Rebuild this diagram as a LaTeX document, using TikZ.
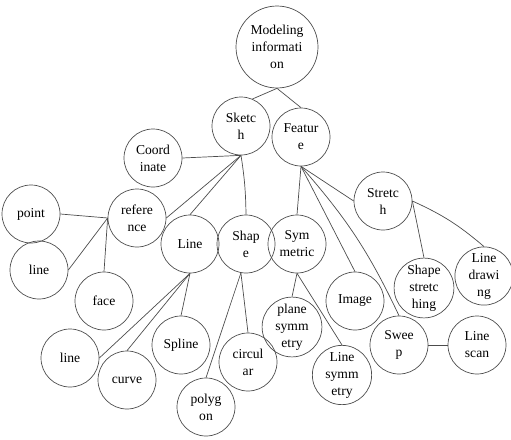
\documentclass[tikz,border=0pt]{standalone}
\usepackage{fontspec}
\setmainfont{Liberation Serif}
\tikzset{
  topic/.style={draw=black!70, circle, line width=0.7pt, minimum size=58pt,
    inner sep=1pt, align=center, font=\fontsize{13.6}{17}\selectfont},
  root/.style={topic, minimum size=82pt}
}
\begin{document}
\begin{tikzpicture}[x=1pt,y=-1pt]
      \useasboundingbox (0,0) rectangle (511,439);
      \begin{scope}[every node/.style=topic]
      \path
        (277,47) node[root] (model){Modeling\\informati\\on}
        (241,126) node (sketch){Sketc\\h}
        (301,137) node (feat){Featur\\e}
        (153,158) node (coord){Coord\\inate}
        (137,218) node (ref){refere\\nce}
        (31,214) node (point){point}
        (39,270) node (lineA){line}
        (104,301) node (face){face}
        (190,244) node (line){Line}
        (246,244) node (shape){Shap\\e}
        (70,358) node (lineB){line}
        (127,380) node (curve){curve}
        (181,345) node (spline){Spline}
        (206,407) node (polygon){polyg\\on}
        (248,362) node (circ){circul\\ar}
        (297,244) node (sym){Sym\\metric}
        (383,201) node (stretch){Stretc\\h}
        (355,301) node (image){Image}
        (424,288) node (shstr){Shape\\stretc\\hing}
        (484,276) node (linedr){Line\\drawi\\ng}
        (292,327) node (plane){plane\\symm\\etry}
        (342,375) node (linesym){Line\\symm\\etry}
        (399,345) node (sweep){Swee\\p}
        (477,345) node (scan){Line\\scan};
      \end{scope}
      \begin{scope}[-, draw=black!70, line width=0.7pt]
        \draw (model.south) to (sketch.67);
        \draw (model.south) to (feat.north);
        \draw (sketch.south) to (coord.east);
        \draw (sketch.south) to (ref.east);
        \draw (sketch.south) to (line.north);
        \draw (sketch.south) to[bend left=4] (shape.north);
        \draw (ref.west) to (point.east);
        \draw (ref.west) to (lineA.east);
        \draw (ref.west) to (face.north);
        \draw (line.south) to (lineB.east);
        \draw (line.south) to (curve.north);
        \draw (line.south) to (spline.north);
        \draw (shape.-100) to (polygon.north);
        \draw (shape.-100) to (circ.north);
        \draw (feat.south) to (sym.north);
        \draw (feat.south) to (image.north);
        \draw (feat.south) to[bend left=8] (sweep.north);
        \draw (feat.south) to (stretch.west);
        \draw (stretch.east) to (shstr.north);
        \draw (stretch.east) to[bend left=8] (linedr.north);
        \draw (sym.south) to (plane.north);
        \draw (sym.south) to (linesym.north);
        \draw (sweep.east) to (scan.west);
      \end{scope}
    \end{tikzpicture}
\end{document}
